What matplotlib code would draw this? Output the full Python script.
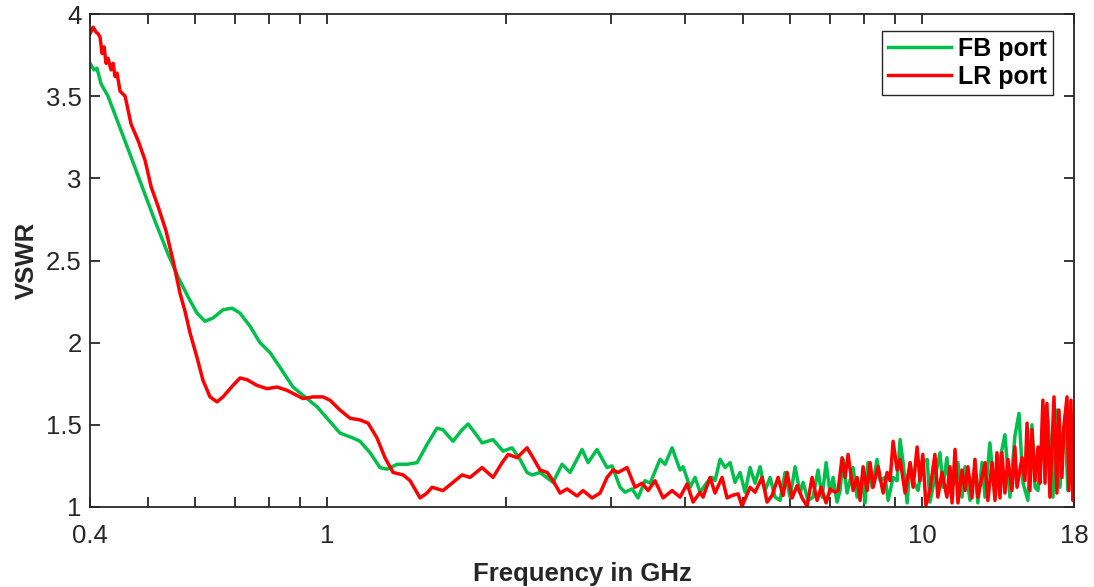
import matplotlib
import matplotlib.pyplot as plt
from matplotlib.ticker import FixedLocator, NullFormatter, LogLocator
matplotlib.use("Agg")

# VSWR of the two ports (frequency in GHz)
fb_freq = [0.400, 0.4062, 0.4109, 0.4174, 0.4288, 0.4510, 0.4688, 0.4873, 0.5143, 0.5409,
           0.5622, 0.5842, 0.6050, 0.6240, 0.6437, 0.6690, 0.6927, 0.7145, 0.7427, 0.7720,
           0.8024, 0.8341, 0.8771, 0.9117, 0.9625, 1.012, 1.052, 1.106, 1.137, 1.182,
           1.228, 1.262, 1.313, 1.364, 1.418, 1.473, 1.531, 1.567, 1.629, 1.687,
           1.727, 1.774, 1.823, 1.902, 1.977, 2.047, 2.111, 2.169, 2.212, 2.281,
           2.399, 2.484, 2.562, 2.684, 2.747, 2.843, 2.956, 3.014, 3.109, 3.169,
           3.257, 3.333, 3.424, 3.492, 3.629, 3.700, 3.802, 3.921, 3.967, 4.076,
           4.155, 4.237, 4.353, 4.438, 4.489, 4.578, 4.667, 4.758, 4.850, 4.946,
           5.042, 5.141, 5.241, 5.344, 5.448, 5.555, 5.663, 5.774, 5.886, 6.002,
           6.119, 6.239, 6.311, 6.434, 6.560, 6.688, 6.793, 6.899, 7.006, 7.088,
           7.198, 7.283, 7.368, 7.482, 7.658, 7.777, 7.930, 8.022, 8.112, 8.243,
           8.404, 8.502, 8.668, 8.771, 8.940, 9.080, 9.186, 9.293, 9.440, 9.548,
           9.660, 9.848, 10.00, 10.20, 10.31, 10.51, 10.72, 10.84, 11.01, 11.14,
           11.36, 11.49, 11.67, 11.81, 12.04, 12.27, 12.41, 12.61, 12.76, 13.00,
           13.26, 13.52, 13.78, 14.05, 14.32, 14.55, 14.78, 15.06, 15.30, 15.48,
           15.66, 16.09, 16.28, 16.59, 16.85, 17.05, 17.38, 17.58, 18.00]
fb_vswr = [3.70, 3.66, 3.67, 3.575, 3.50, 3.29, 3.13, 2.966, 2.74, 2.54,
           2.40, 2.28, 2.18, 2.13, 2.15, 2.20, 2.21, 2.18, 2.10, 2.00,
           1.94, 1.85, 1.73, 1.68, 1.61, 1.52, 1.45, 1.42, 1.40, 1.33,
           1.24, 1.23, 1.26, 1.26, 1.27, 1.38, 1.48, 1.47, 1.40, 1.47,
           1.505, 1.45, 1.39, 1.41, 1.34, 1.36, 1.29, 1.21, 1.195, 1.21,
           1.15, 1.26, 1.21, 1.35, 1.27, 1.35, 1.24, 1.25, 1.12, 1.09,
           1.11, 1.055, 1.16, 1.145, 1.29, 1.26, 1.36, 1.225, 1.245, 1.12,
           1.18, 1.09, 1.15, 1.18, 1.16, 1.29, 1.24, 1.27, 1.15, 1.21,
           1.09, 1.24, 1.145, 1.245, 1.10, 1.18, 1.06, 1.04, 1.21, 1.06,
           1.245, 1.085, 1.15, 1.04, 1.06, 1.225, 1.06, 1.27, 1.085, 1.18,
           1.03, 1.10, 1.29, 1.085, 1.24, 1.06, 1.18, 1.025, 1.27, 1.12,
           1.29, 1.16, 1.18, 1.04, 1.18, 1.16, 1.41, 1.27, 1.025, 1.27,
           1.16, 1.10, 1.27, 1.29, 1.03, 1.18, 1.33, 1.12, 1.30, 1.09,
           1.16, 1.27, 1.06, 1.245, 1.04, 1.245, 1.025, 1.27, 1.06, 1.39,
           1.06, 1.29, 1.44, 1.06, 1.43, 1.57, 1.145, 1.04, 1.50, 1.12,
           1.10, 1.61, 1.53, 1.06, 1.59, 1.12, 1.55, 1.10, 1.39]

lr_freq = [0.400, 0.4047, 0.4094, 0.4126, 0.4158, 0.4190, 0.4223, 0.4256, 0.4289, 0.4339,
           0.4373, 0.4407, 0.4440, 0.4493, 0.4581, 0.4688, 0.4817, 0.4949, 0.5065, 0.5203,
           0.5367, 0.5515, 0.5666, 0.5777, 0.5889, 0.6050, 0.6193, 0.6363, 0.6537, 0.6690,
           0.6954, 0.7145, 0.7341, 0.7630, 0.7932, 0.8244, 0.8569, 0.9117, 0.9478, 0.9852,
           1.012, 1.052, 1.094, 1.137, 1.173, 1.214, 1.252, 1.292, 1.343, 1.380,
           1.434, 1.473, 1.502, 1.567, 1.629, 1.687, 1.740, 1.823, 1.902, 1.970,
           2.016, 2.087, 2.169, 2.220, 2.281, 2.345, 2.399, 2.465, 2.532, 2.632,
           2.694, 2.790, 2.878, 2.956, 3.026, 3.085, 3.194, 3.294, 3.385, 3.465,
           3.559, 3.672, 3.802, 3.921, 4.029, 4.124, 4.237, 4.286, 4.404, 4.489,
           4.613, 4.703, 4.795, 4.908, 4.984, 5.141, 5.241, 5.385, 5.490, 5.598,
           5.729, 5.841, 5.932, 6.048, 6.166, 6.287, 6.409, 6.535, 6.662, 6.767,
           6.899, 7.006, 7.142, 7.226, 7.339, 7.424, 7.511, 7.659, 7.778, 7.869,
           7.960, 8.085, 8.179, 8.274, 8.436, 8.602, 8.737, 8.837, 8.940, 9.080,
           9.186, 9.364, 9.548, 9.660, 9.810, 9.919, 10.03, 10.15, 10.31, 10.51,
           10.63, 10.80, 11.01, 11.14, 11.23, 11.36, 11.49, 11.67, 11.81, 11.94,
           12.13, 12.27, 12.41, 12.61, 12.76, 12.90, 13.11, 13.26, 13.36, 13.52,
           13.62, 13.78, 13.94, 14.16, 14.32, 14.44, 14.72, 14.89, 15.01, 15.18,
           15.30, 15.48, 15.66, 15.78, 15.96, 16.09, 16.21, 16.40, 16.66, 16.85,
           16.98, 17.18, 17.31, 17.52, 17.65, 17.79, 17.93, 18.00]
lr_vswr = [3.88, 3.92, 3.89, 3.88, 3.86, 3.76, 3.80, 3.70, 3.73, 3.66,
           3.70, 3.62, 3.64, 3.53, 3.50, 3.33, 3.23, 3.11, 2.95, 2.83,
           2.68, 2.50, 2.30, 2.19, 2.06, 1.91, 1.77, 1.67, 1.64, 1.67,
           1.74, 1.785, 1.775, 1.74, 1.72, 1.73, 1.71, 1.66, 1.67, 1.67,
           1.65, 1.59, 1.54, 1.53, 1.51, 1.42, 1.30, 1.21, 1.195, 1.16,
           1.055, 1.085, 1.12, 1.10, 1.15, 1.195, 1.18, 1.24, 1.18, 1.27,
           1.32, 1.30, 1.36, 1.30, 1.225, 1.21, 1.16, 1.085, 1.11, 1.067,
           1.10, 1.055, 1.085, 1.18, 1.225, 1.21, 1.24, 1.12, 1.145, 1.10,
           1.16, 1.055, 1.10, 1.06, 1.14, 1.03, 1.09, 1.06, 1.18, 1.085,
           1.18, 1.055, 1.07, 1.08, 1.005, 1.12, 1.09, 1.18, 1.03, 1.07,
           1.18, 1.07, 1.21, 1.055, 1.13, 1.055, 1.005, 1.18, 1.04, 1.12,
           1.025, 1.11, 1.09, 1.10, 1.30, 1.18, 1.32, 1.10, 1.18, 1.04,
           1.245, 1.10, 1.27, 1.12, 1.245, 1.085, 1.21, 1.16, 1.40, 1.225,
           1.29, 1.085, 1.27, 1.12, 1.365, 1.16, 1.32, 1.01, 1.10, 1.32,
           1.06, 1.21, 1.06, 1.245, 1.025, 1.35, 1.025, 1.225, 1.10, 1.245,
           1.055, 1.29, 1.06, 1.18, 1.27, 1.04, 1.27, 1.04, 1.33, 1.055,
           1.33, 1.085, 1.29, 1.10, 1.365, 1.12, 1.30, 1.16, 1.51, 1.10,
           1.47, 1.16, 1.365, 1.145, 1.65, 1.145, 1.63, 1.06, 1.67, 1.085,
           1.59, 1.18, 1.49, 1.67, 1.10, 1.65, 1.04, 1.43]

x_ticks = [0.4, 1, 10, 18]
x_tick_labels = ["0.4", "1", "10", "18"]
y_ticks = [1, 1.5, 2, 2.5, 3, 3.5, 4]
y_tick_labels = ["1", "1.5", "2", "2.5", "3", "3.5", "4"]

plt.rcParams['font.family'] = ['Liberation Sans', 'DejaVu Sans']

fig = plt.figure(figsize=(10.94, 5.87), dpi=100)
ax = fig.add_axes([0.0823, 0.1363, 0.8994, 0.8398])

ax.plot(fb_freq, fb_vswr, color="#00c04b", lw=2.5, label="FB port")
ax.plot(lr_freq, lr_vswr, color="#ff0000", lw=2.5, label="LR port")

ax.set_xscale("log")
ax.set_xlim(0.4, 18)
ax.set_ylim(1, 4)
ax.xaxis.set_major_locator(FixedLocator(x_ticks))
ax.set_xticklabels(x_tick_labels)
ax.xaxis.set_minor_locator(LogLocator(base=10, subs=[2, 3, 4, 5, 6, 7, 8, 9]))
ax.xaxis.set_minor_formatter(NullFormatter())
ax.set_yticks(y_ticks)
ax.set_yticklabels(y_tick_labels)

ax.tick_params(which="both", direction="in", top=True, right=True,
               length=7.5, width=1.3, color="#262626",
               labelsize=18.5, labelcolor="#262626")
ax.tick_params(axis="x", pad=12)
ax.tick_params(axis="y", pad=6)
for s in ax.spines.values():
    s.set_linewidth(1.3)
    s.set_color("#262626")

ax.set_xlabel("Frequency in GHz", fontsize=18.5, fontweight="bold", color="#262626", labelpad=10)
ax.set_ylabel("VSWR", fontsize=18.5, fontweight="bold", color="#262626", labelpad=5)

leg = ax.legend(loc="upper right", bbox_to_anchor=(0.979, 0.966),
                prop={"weight": "bold", "size": 18}, fancybox=False, framealpha=1,
                edgecolor="#262626", handlelength=2.5, handletextpad=0.3,
                borderpad=0.25, labelspacing=0.15, borderaxespad=0)
leg.get_frame().set_linewidth(1.0)

fig.savefig("out.png", dpi=100)
